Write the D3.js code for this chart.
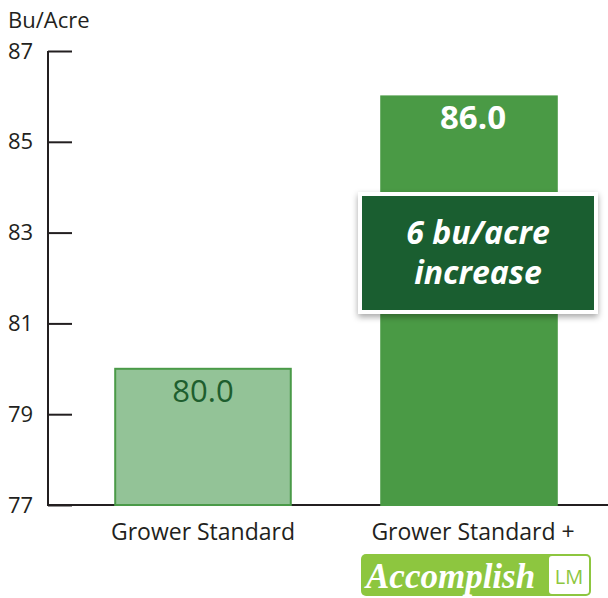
<!DOCTYPE html>
<html><head><meta charset="utf-8">
<script src="https://cdn.jsdelivr.net/npm/d3@7"></script>
<style>body{margin:0;background:#fff}svg{display:block}</style>
</head><body>
<svg id="c" width="608" height="598"></svg>
<script>
const categories = ["Grower Standard", "Grower Standard +"];
const values = [80.0, 86.0];
const yTicks = [77, 79, 81, 83, 85, 87];
const unitLabel = "Bu/Acre";
const calloutLines = ["6 bu/acre", "increase"];

const svg = d3.select("#c");
const font = "'Open Sans', 'Noto Sans', sans-serif";
const y = d3.scaleLinear().domain([77, 87]).range([505, 51]);
const x = d3.scaleBand().domain(categories).range([62, 610]).paddingInner(0.34).paddingOuter(0.2);

// axis
const ax = svg.append("g").attr("transform", "translate(48,0)")
  .call(d3.axisLeft(y).tickValues(yTicks).tickSize(-24).tickFormat(d3.format("d")));
ax.select(".domain").remove();
ax.selectAll(".tick line").attr("stroke", "#231f20").attr("stroke-width", 2);
ax.selectAll(".tick text").attr("x", -40).attr("text-anchor", "start")
  .attr("font-family", font).attr("font-size", 22).attr("fill", "#231f20");
svg.append("line").attr("x1", 48).attr("x2", 48).attr("y1", y(87)).attr("y2", y(77)+1)
  .attr("stroke", "#231f20").attr("stroke-width", 2);
svg.append("line").attr("x1", 47).attr("x2", 608).attr("y1", y(77)).attr("y2", y(77))
  .attr("stroke", "#231f20").attr("stroke-width", 2);
svg.append("text").attr("x", 8).attr("y", 28).text(unitLabel)
  .attr("font-family", font).attr("font-size", 22).attr("fill", "#231f20");

// bars
const fills = ["#93c397", "#4a9a45"];
const strokes = ["#4a9a48", "#4a9a45"];
svg.selectAll("rect.bar").data(values).enter().append("rect").attr("class", "bar")
  .attr("x", (d, i) => x(categories[i]))
  .attr("width", x.bandwidth())
  .attr("y", d => y(d))
  .attr("height", d => y(77) - y(d))
  .attr("fill", (d, i) => fills[i])
  .attr("stroke", (d, i) => strokes[i]).attr("stroke-width", 2);

// value labels
svg.selectAll("text.val").data(values).enter().append("text").attr("class", "val")
  .attr("x", (d, i) => x(categories[i]) + x.bandwidth() / 2 + (i === 0 ? 0 : 4))
  .attr("y", d => y(d) + 33)
  .attr("text-anchor", "middle")
  .attr("font-family", font)
  .attr("font-size", (d, i) => i === 0 ? 31 : 33)
  .attr("font-weight", (d, i) => i === 0 ? 400 : 700)
  .attr("fill", (d, i) => i === 0 ? "#1e5e2e" : "#ffffff")
  .text(d => d.toFixed(1));

// category labels
svg.selectAll("text.cat").data(categories).enter().append("text").attr("class", "cat")
  .attr("x", d => x(d) + x.bandwidth() / 2 + (d.endsWith("+") ? 4 : 0))
  .attr("y", 540)
  .attr("text-anchor", "middle")
  .attr("font-family", font).attr("font-size", 23).attr("fill", "#231f20")
  .text(d => d);

// callout
const defs = svg.append("defs");
const f = defs.append("filter").attr("id", "sh").attr("x", "-10%").attr("y", "-10%").attr("width", "120%").attr("height", "130%");
f.append("feDropShadow").attr("dx", 0).attr("dy", 3).attr("stdDeviation", 3).attr("flood-color", "#000").attr("flood-opacity", 0.35);
svg.append("rect").attr("x", 358).attr("y", 192).attr("width", 240).attr("height", 122)
  .attr("fill", "#fff").attr("filter", "url(#sh)");
svg.append("rect").attr("x", 362).attr("y", 196).attr("width", 232).attr("height", 114)
  .attr("fill", "#1a5e30");
svg.selectAll("text.co").data(calloutLines).enter().append("text").attr("class", "co")
  .attr("x", 478).attr("y", (d, i) => 244 + i * 40)
  .attr("text-anchor", "middle")
  .attr("font-family", font).attr("font-size", 32).attr("font-weight", 700).attr("font-style", "italic")
  .attr("fill", "#fff").text(d => d);

// logo
const lg = svg.append("g");
lg.append("rect").attr("x", 361).attr("y", 554).attr("width", 230).attr("height", 42).attr("rx", 5)
  .attr("fill", "#8dc63f");
lg.append("rect").attr("x", 549).attr("y", 556).attr("width", 40).attr("height", 38).attr("rx", 3)
  .attr("fill", "#fff");
lg.append("text").attr("x", 366).attr("y", 588).text("Accomplish")
  .attr("font-family", "'Liberation Serif', serif").attr("font-size", 35).attr("font-style", "italic").attr("font-weight", 700)
  .attr("fill", "#fff");
lg.append("text").attr("x", 569).attr("y", 584).attr("text-anchor", "middle").text("LM")
  .attr("font-family", font).attr("font-size", 20).attr("fill", "#8dc63f");
</script>
</body></html>
